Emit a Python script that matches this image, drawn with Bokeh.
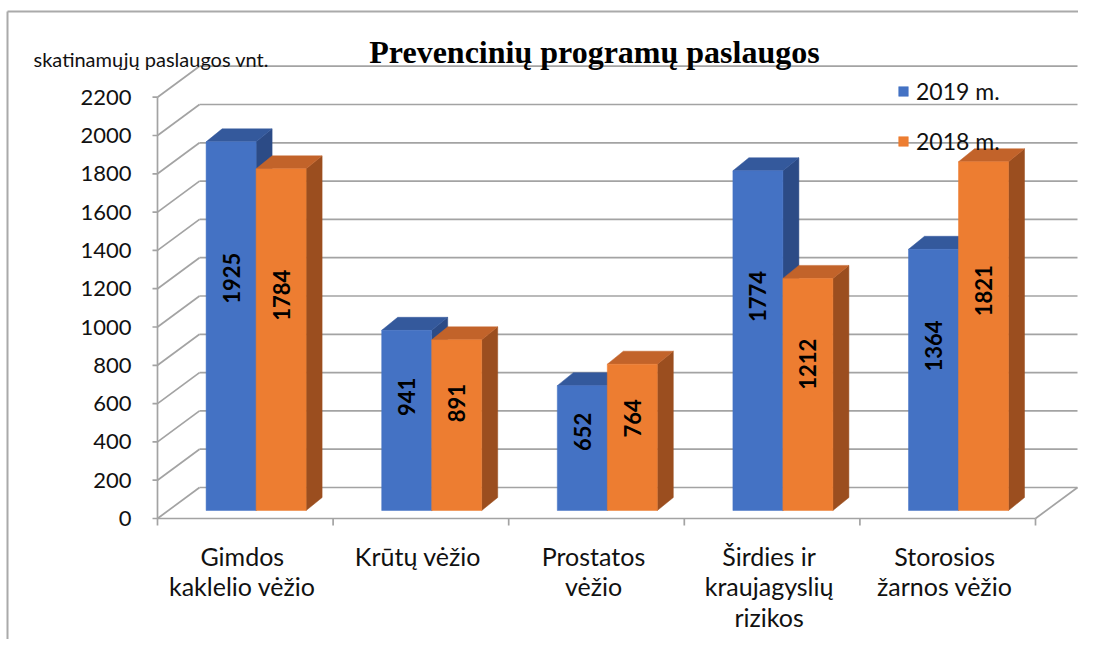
import math
from bokeh.plotting import figure
from bokeh.models import Range1d, Legend, LegendItem
from bokeh.core.properties import value
from bokeh.embed import file_html
from bokeh.resources import INLINE

# ---------------- data ----------------
categories = [
    "Gimdos\nkaklelio vėžio",
    "Krūtų vėžio",
    "Prostatos\nvėžio",
    "Širdies ir\nkraujagyslių\nrizikos",
    "Storosios\nžarnos vėžio",
]
series = ["2019 m.", "2018 m."]
values_2019 = [1925, 941, 652, 1774, 1364]
values_2018 = [1784, 891, 764, 1212, 1821]
y_ticks = [0, 200, 400, 600, 800, 1000, 1200, 1400, 1600, 1800, 2000, 2200]
title_text = "Prevencinių programų paslaugos"
y_title = "skatinamųjų paslaugos vnt."

# ---------------- geometry / style ----------------
W, H = 1078, 639
M = 0                      # figure origin on the photographed page
X0, XS = 157.0, 175.6      # page px of category-axis origin, px per category
Y0, YS = 518.0, 0.1915     # page px of value 0 (front plane), px per unit


def ux(px):
    return (px - X0) / XS


def vy(py):
    return (Y0 - py) / YS


DXB, DYB = 42 / XS, 31 / YS      # depth of the back wall
BOX, BOY = 10.8 / XS, 8 / YS     # bar front offset into depth
BDX, BDY = 16 / XS, 13 / YS      # bar depth
BW = 50 / XS                     # bar width
LABEL_FRAC = 0.63
CAT_SHIFT = -3 / XS

GRID = "#A3A3A3"
SANS = value("Lato")
SERIF = value("Liberation Serif")

colors = [
    ("#4472C4", "#34599C", "#2C4B86"),   # front, top, side (2019)
    ("#ED7D31", "#C2632A", "#9B4E1F"),   # 2018
]

p = figure(width=W, height=H, output_backend="svg", toolbar_location=None,
           x_range=Range1d(ux(M), ux(M + W)),
           y_range=Range1d(vy(M + H), vy(M)),
           min_border=0, x_axis_type=None, y_axis_type=None, tools="")
p.grid.visible = False
p.outline_line_color = None
p.background_fill_color = "white"
p.border_fill_color = "white"

n = len(categories)
tmax = max(y_ticks)

# outer border (top and left)
p.segment(x0=[ux(7), ux(7)], y0=[vy(11), vy(11)],
          x1=[ux(M + W), ux(7)], y1=[vy(11), vy(M + H)],
          line_color="#AAAAAA", line_width=2)

# back wall gridlines
p.segment(x0=[DXB] * len(y_ticks), y0=[t + DYB for t in y_ticks],
          x1=[n + DXB] * len(y_ticks), y1=[t + DYB for t in y_ticks],
          line_color=GRID, line_width=1.7)
# left wall diagonals
p.segment(x0=[0] * len(y_ticks), y0=y_ticks,
          x1=[DXB] * len(y_ticks), y1=[t + DYB for t in y_ticks],
          line_color=GRID, line_width=1.7)
# value axis line + ticks
p.segment(x0=[0], y0=[0], x1=[0], y1=[tmax], line_color=GRID, line_width=1.7)
p.segment(x0=[-5 / XS] * len(y_ticks), y0=y_ticks, x1=[0] * len(y_ticks), y1=y_ticks,
          line_color=GRID, line_width=1.7)
# floor front edge, right edge, category ticks
p.segment(x0=[0, n], y0=[0, 0], x1=[n, n + DXB], y1=[0, DYB],
          line_color=GRID, line_width=1.7)
p.segment(x0=list(range(n + 1)), y0=[0] * (n + 1),
          x1=list(range(n + 1)), y1=[-7 / YS] * (n + 1),
          line_color=GRID, line_width=1.7)

# bars
front_renderers = []
for s, vals in enumerate([values_2019, values_2018]):
    fc, tc, sc = colors[s]
    lefts = [i + 0.5 + BOX - BW + s * BW for i in range(n)]
    rights = [l + BW for l in lefts]
    bottoms = [BOY] * n
    tops = [BOY + v for v in vals]
    side_xs = [[r, r + BDX, r + BDX, r] for r in rights]
    side_ys = [[b, b + BDY, t + BDY, t] for b, t in zip(bottoms, tops)]
    top_xs = [[l, l + BDX, r + BDX, r] for l, r in zip(lefts, rights)]
    top_ys = [[t, t + BDY, t + BDY, t] for t in tops]
    p.patches(xs=side_xs, ys=side_ys, fill_color=sc, line_color=sc, line_width=0.5)
    p.patches(xs=top_xs, ys=top_ys, fill_color=tc, line_color=tc, line_width=0.5)
    r = p.quad(left=lefts, right=rights, bottom=bottoms, top=tops,
               fill_color=fc, line_color=fc, line_width=0.5)
    front_renderers.append(r)
    # data labels
    p.text(x=[(l + rr) / 2 for l, rr in zip(lefts, rights)],
           y=[BOY + LABEL_FRAC * v for v in vals],
           text=[str(v) for v in vals], angle=math.pi / 2,
           text_align="center", text_baseline="middle",
           text_font=SANS, text_font_style="bold", text_font_size="22px",
           text_color="black")

# value tick labels
p.text(x=[ux(131)] * len(y_ticks), y=y_ticks, text=[str(t) for t in y_ticks],
       text_align="right", text_baseline="middle",
       text_font=SANS, text_font_size="22px", text_color="#111111")

# category labels
p.text(x=[i + 0.5 + CAT_SHIFT for i in range(n)], y=[vy(540)] * n, text=categories,
       text_align="center", text_baseline="top", text_line_height=1.03,
       text_font=SANS, text_font_size="25px", text_color="#111111")

# axis title
p.text(x=[ux(33)], y=[vy(58)], text=[y_title], text_align="left",
       text_baseline="alphabetic", text_font=SANS, text_font_size="20px",
       text_color="#111111")

# chart title
p.text(x=[ux(594)], y=[vy(51)], text=[title_text], text_align="center",
       text_baseline="alphabetic", text_font=SERIF, text_font_style="bold",
       text_font_size="32px", text_color="black")

legend = Legend(items=[LegendItem(label=series[0], renderers=[front_renderers[0]]),
                       LegendItem(label=series[1], renderers=[front_renderers[1]])],
                location=(897, 484), orientation="vertical",
                glyph_width=12, glyph_height=12, label_standoff=7, spacing=22,
                padding=0, margin=0, border_line_color=None,
                background_fill_alpha=0,
                label_text_font="Lato", label_text_font_size="23px",
                label_text_color="#111111")
p.add_layout(legend)

open("out.html", "w").write(file_html(p, INLINE))
